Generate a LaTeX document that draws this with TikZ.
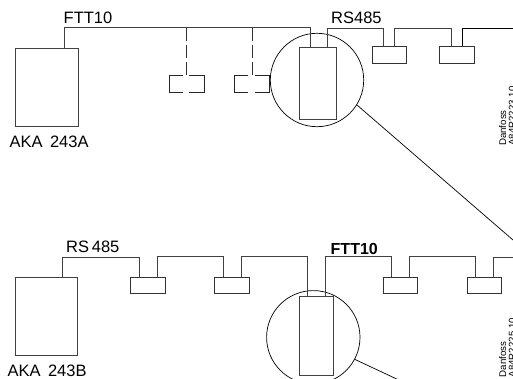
\documentclass[tikz,border=0pt]{standalone}
\usepackage{fontspec}
\setmainfont{Liberation Sans}
\tikzset{
  wire/.style={line width=0.9pt, black!75},
  thinwire/.style={line width=0.7pt, black},
  dashwire/.style={line width=0.7pt, black!80, dash pattern=on 12.5pt off 4.5pt},
  bracket/.style={line width=0.7pt, black!85},
  optbox/.style={minimum width=34.7pt, minimum height=16.5pt, inner sep=0pt},
  lbl/.style={inner sep=0pt, font=\fontsize{16.5}{18}\selectfont},
  ctrlbox/.style={draw, line width=0.9pt, black!75, text=black, minimum width=62.5pt, minimum height=78.5pt, inner sep=0pt},
  unitbox/.style={draw, line width=0.9pt, black!80, minimum width=34.7pt, minimum height=16.5pt, inner sep=0pt},
  gatebox/.style={draw, line width=0.9pt, black!75, inner sep=0pt},
  zoomring/.style={draw, line width=0.7pt, black, circle, minimum size=93.4pt, inner sep=0pt},
  stamp/.style={inner sep=0pt, rotate=90, anchor=south west, align=left, font=\fontsize{9.7}{9.7}\selectfont}
}
\begin{document}
\begin{tikzpicture}[x=1pt,y=-1pt]
  \useasboundingbox (0,0) rectangle (513,379);
  \clip (0,0) rectangle (513,378.5);

  % upper system
  \node [ctrlbox] (ctrlA) at (46.8,87.5) {};
  \node [lbl, anchor=base west] (ctrlAlbl) at (9.5,147.5) {AKA\, 243A};
  \node [lbl, anchor=base west] (fttA) at (63.5,23.3) {FTT10};
  \node [lbl, anchor=base west] (rsA) at (331,23.3) {RS485};
  \node [zoomring] (ringA) at (317,80) {};
  \node [gatebox, minimum width=36.6pt, minimum height=72pt] (gateA) at (318,83) {};
  \node [unitbox] (devA) at (389.3,55.2) {};
  \node [unitbox] (devB) at (456.7,55.2) {};
  \coordinate (endA) at (513,28.5);
  \coordinate (farA) at (513,240);

  \draw [wire] (ctrlA.north) ++(17.7,0) -- ++(0,-20) -| ([xshift=-8pt]gateA.north);
  \draw [wire] ([xshift=9pt]gateA.north) -- ++(0,-18.5) -| ([xshift=-6pt]devA.north);
  \draw [wire] ([xshift=5.5pt]devA.north) -- ++(0,-18.5) -| ([xshift=-5.7pt]devB.north);
  \draw [thinwire] ([xshift=5.7pt]devB.north) |- (endA);
  \draw [thinwire] (ringA.-32) -- (farA);

  % planned units
  \coordinate (tapA) at (186.5,28.5);
  \coordinate (tapB) at (252,28.5);
  \node [optbox] (optA) at (186.8,83.7) {};
  \node [optbox] (optB) at (252,83.7) {};
  \draw [dashwire] (tapA) -- (tapA |- optA.north);
  \draw [dashwire] (tapB) -- (tapB |- optB.north);
  \draw [bracket] ([xshift=-4pt]optA.north) -- (optA.north west) -- (optA.south west) -- ([xshift=-4pt]optA.south);
  \draw [bracket] ([xshift=2.6pt]optA.north) -- (optA.north east) -- (optA.south east) -- ([xshift=2.6pt]optA.south);
  \draw [bracket] ([xshift=-4pt]optB.north) -- (optB.north west) -- (optB.south west) -- ([xshift=-4pt]optB.south);
  \draw [bracket] ([xshift=2.6pt]optB.north) -- (optB.north east) -- (optB.south east) -- ([xshift=2.6pt]optB.south);

  \node [stamp] (stampA) at (516,146) {Danfoss\\A84R2223.10};

  % lower system
  \node [ctrlbox] (ctrlB) at (46.5,316.5) {};
  \node [lbl, anchor=base west] (ctrlBlbl) at (7.5,376.3) {AKA\, 243B};
  \node [lbl, anchor=base west] (rsB) at (66,252) {RS\,485};
  \node [lbl, anchor=base west, font=\fontsize{16}{18}\selectfont\bfseries] (fttB) at (330.5,254) {FTT10};
  \node [zoomring] (ringB) at (313.3,337.3) {};
  \node [gatebox, minimum width=34.3pt, minimum height=79pt] (gateB) at (316.2,335.5) {};
  \node [unitbox] (devC) at (148.2,285.3) {};
  \node [unitbox] (devD) at (232.2,285.3) {};
  \node [unitbox] (devE) at (400.3,285.3) {};
  \node [unitbox] (devF) at (484.3,285.3) {};
  \coordinate (endB) at (513,257.3);
  \coordinate (farB) at (401,381);

  \draw [wire] (ctrlB.north) ++(15.5,0) -- ++(0,-19.7) -| ([xshift=-9.2pt]devC.north);
  \draw [wire] ([xshift=9.2pt]devC.north) -- ++(0,-19.7) -| ([xshift=-9.2pt]devD.north);
  \draw [wire] ([xshift=9.2pt]devD.north) -- ++(0,-19.7) -| ([xshift=-9.2pt]gateB.north);
  \draw [wire] ([xshift=9.2pt]gateB.north) -- ++(0,-38.7) -| ([xshift=-9.2pt]devE.north);
  \draw [wire] ([xshift=9.2pt]devE.north) -- ++(0,-19.7) -| ([xshift=-9.2pt]devF.north);
  \draw [wire] ([xshift=9.2pt]devF.north) |- (endB);
  \draw [thinwire] (ringB.-28) -- (farB);

  \node [stamp] (stampB) at (516,377.5) {Danfoss\\A84R2225.10};
\end{tikzpicture}
\end{document}
